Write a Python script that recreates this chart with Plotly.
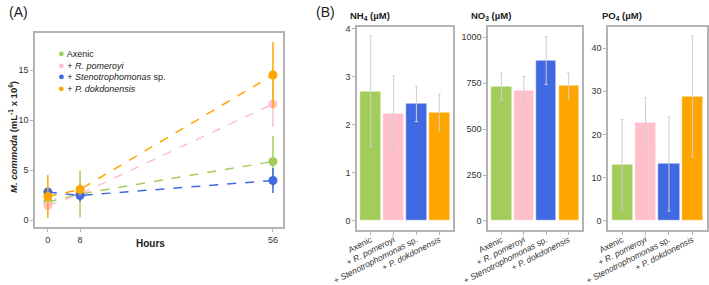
import plotly.graph_objects as go

W, H = 709, 285
FONT = "Liberation Sans, Arial, sans-serif"

# ---------------- data ----------------
hours = [0, 8, 56]
series_names = ["Axenic", "+ R. pomeroyi", "+ Stenotrophomonas sp.", "+ P. dokdonensis"]
series_labels = ["Axenic", "+ <i>R. pomeroyi</i>", "+ <i>Stenotrophomonas</i> sp.", "+ <i>P. dokdonensis</i>"]
colors = ["#A2CD5A", "#FFC0CB", "#4169E1", "#FFA500"]

axenic_y = [1.8, 2.6, 5.85]
axenic_err = [0.3, 2.35, 2.55]
pomeroyi_y = [1.45, 2.6, 11.6]
pomeroyi_err = [0.3, 0.4, 2.3]
steno_y = [2.8, 2.45, 3.95]
steno_err = [0.2, 0.6, 1.25]
dokdo_y = [2.35, 3.05, 14.5]
dokdo_err = [2.15, 0.6, 3.3]

growth_y = [axenic_y, pomeroyi_y, steno_y, dokdo_y]
growth_err = [axenic_err, pomeroyi_err, steno_err, dokdo_err]

nh4 = [2.7, 2.23, 2.44, 2.26]
nh4_err = [1.15, 0.79, 0.37, 0.38]
no3 = [731, 709, 873, 735]
no3_err = [74, 77, 130, 71]
po4 = [13.0, 22.8, 13.2, 28.8]
po4_err = [10.5, 5.7, 10.9, 14.0]

a_xticks = [0, 8, 56]
a_yticks = [0, 5, 10, 15]
nh4_ticks = [0, 1, 2, 3, 4]
no3_ticks = [0, 250, 500, 750, 1000]
po4_ticks = [0, 10, 20, 30, 40]

# ---------------- helpers ----------------
def px_x(p):
    return p / W

def px_y(p):
    return (H - p) / H

fig = go.Figure()

# Panel A traces
for name, ys, es, c in zip(series_names, growth_y, growth_err, colors):
    fig.add_trace(go.Scatter(
        x=hours, y=ys, mode="lines+markers", name=name,
        line=dict(color=c, width=1.5, dash="dash"),
        marker=dict(color=c, size=9),
        error_y=dict(type="data", array=es, color=c, thickness=1.5, width=0),
        xaxis="x", yaxis="y", showlegend=False,
    ))

# Panel B traces
bar_sets = [(nh4, nh4_err, "x2", "y2"), (no3, no3_err, "x3", "y3"), (po4, po4_err, "x4", "y4")]
for vals, errs, xa, ya in bar_sets:
    fig.add_trace(go.Bar(
        x=series_names, y=vals, width=0.9,
        marker=dict(color=colors, line=dict(color="white", width=0.5)),
        error_y=dict(type="data", array=errs, color="#cfcfcf", thickness=1, width=1.5),
        xaxis=xa, yaxis=ya, showlegend=False,
    ))

frame = dict(showline=True, mirror=True, linecolor="#b3b3b3", linewidth=1.5,
             showgrid=False, zeroline=False, ticks="outside", ticklen=3,
             tickcolor="#b3b3b3", automargin=False,
             tickfont=dict(size=9, color="#333333", family=FONT))

layout = dict(
    width=W, height=H, margin=dict(l=0, r=0, t=0, b=0, autoexpand=False),
    paper_bgcolor="white", plot_bgcolor="white",
    font=dict(family=FONT, color="#222222"),
    bargap=0, showlegend=False,
)

layout["xaxis"] = dict(frame, domain=[px_x(35), px_x(283)], range=[-3.2, 58.5],
                       tickvals=a_xticks, anchor="y")
layout["yaxis"] = dict(frame, domain=[px_y(227), px_y(33)], range=[-0.7, 18.7],
                       tickvals=a_yticks, anchor="x")

boxes = [(357, 453), (488, 582), (608, 706.5)]
yranges = [[-0.19, 4.05], [-49, 1058], [-2.1, 45]]
yticks = [nh4_ticks, no3_ticks, po4_ticks]
for i, ((x0, x1), yr, yt) in enumerate(zip(boxes, yranges, yticks), start=2):
    layout[f"xaxis{i}"] = dict(frame, domain=[px_x(x0), px_x(x1)], range=[-0.6, 3.6],
                               type="category", tickvals=series_names, ticktext=series_labels,
                               tickangle=-27, anchor=f"y{i}", ticklabelstandoff=-3,
                               tickfont=dict(size=8.5, color="#333333", family=FONT))
    layout[f"yaxis{i}"] = dict(frame, domain=[px_y(230), px_y(26.5)], range=yr,
                               tickvals=yt, anchor=f"x{i}")

fig.update_layout(**layout)

ann = []
def add_ann(text, x, y, size=9, xanchor="left", yanchor="middle", angle=0, color="#222222"):
    ann.append(dict(text=text, x=px_x(x), y=px_y(y), xref="paper", yref="paper",
                    showarrow=False, xanchor=xanchor, yanchor=yanchor, textangle=angle,
                    font=dict(size=size, family=FONT, color=color)))

add_ann("(A)", 7, 12, size=14)
add_ann("(B)", 314, 12, size=14)
add_ann("<b>Hours</b>", 150, 243, size=10, xanchor="center")
add_ann("<b><i>M. commoda</i> (mL<sup>-1</sup> x 10<sup>6</sup>)</b>", 13, 137, size=9.5,
        xanchor="center", angle=-90)

# legend (panel A)
leg_y = [52.7, 64.5, 76.5, 88.5]
for lab, c, yy in zip(series_labels, colors, leg_y):
    add_ann(f"<span style='color:{c};font-size:11px'>●</span> {lab}", 56, yy, size=9)

# panel B titles
add_ann("<b>NH<sub>4</sub> (µM)</b>", 348, 16, size=9.5)
add_ann("<b>NO<sub>3</sub> (µM)</b>", 469, 16, size=9.5)
add_ann("<b>PO<sub>4</sub> (µM)</b>", 600, 16, size=9.5)

fig.update_layout(annotations=ann)
fig.write_html("out.html", config={"displayModeBar": False},
               post_script="document.body.style.margin='0';document.body.style.overflow='hidden';")
